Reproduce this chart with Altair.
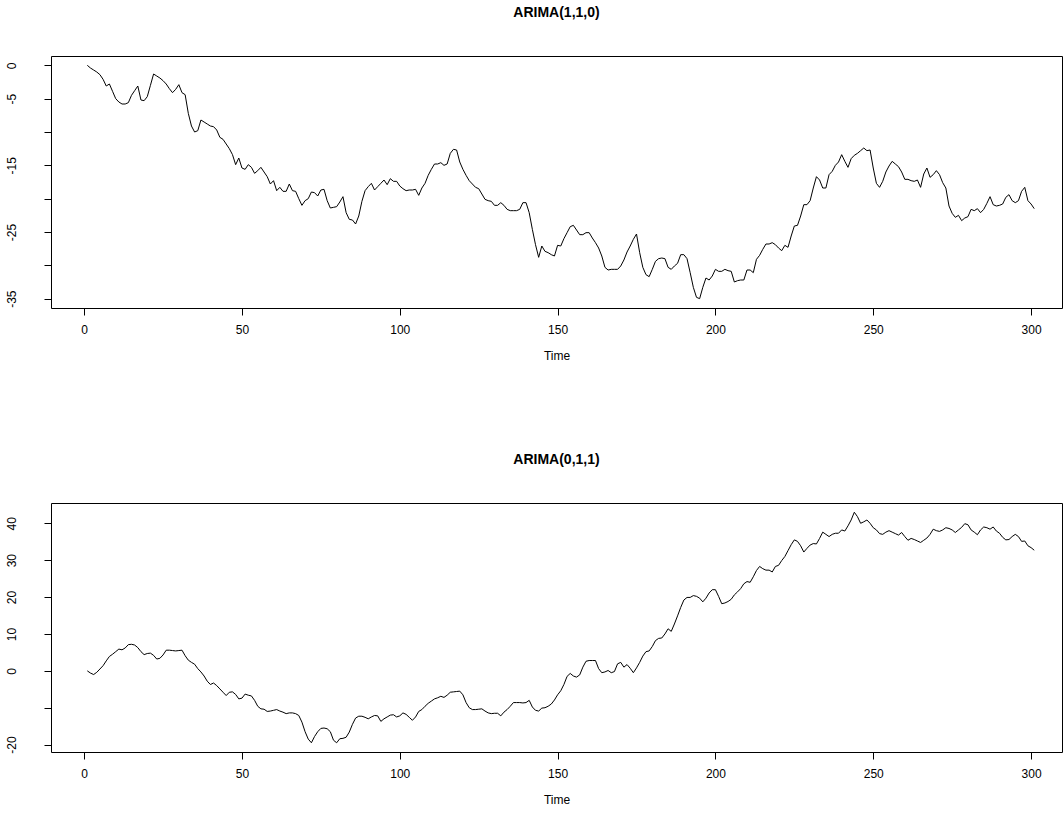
import altair as alt
import pandas as pd

time_index = list(range(1, 302))

arima110 = [
    0.0, -0.4, -0.7, -1.0, -1.4, -2.1, -3.1, -2.8, -3.9, -5.0,
    -5.5, -5.8, -5.8, -5.6, -4.5, -3.8, -3.1, -5.2, -5.3, -4.7,
    -3.0, -1.3, -1.6, -1.9, -2.3, -2.8, -3.5, -4.1, -3.6, -2.9,
    -4.1, -4.4, -7.2, -9.1, -10.0, -9.8, -8.2, -8.5, -8.8, -9.1,
    -9.2, -9.7, -10.8, -11.1, -11.8, -12.5, -13.4, -14.9, -13.9, -15.4,
    -15.6, -14.9, -15.3, -16.2, -15.8, -15.3, -16.0, -16.7, -17.8, -17.3,
    -18.8, -18.3, -18.9, -18.9, -17.8, -18.8, -18.9, -20.0, -21.0, -20.3,
    -20.0, -19.0, -19.1, -19.6, -18.7, -18.6, -20.3, -21.4, -21.3, -21.2,
    -20.5, -19.7, -22.1, -23.1, -23.2, -23.8, -22.6, -20.4, -18.8, -18.2,
    -17.7, -18.7, -18.2, -17.7, -17.2, -17.9, -17.0, -17.4, -17.4, -18.1,
    -18.5, -18.8, -18.7, -18.7, -18.6, -19.5, -18.4, -17.7, -16.5, -15.6,
    -14.8, -14.8, -14.6, -15.0, -14.8, -13.2, -12.6, -12.7, -14.5, -15.6,
    -16.5, -17.3, -17.8, -18.3, -18.5, -19.3, -20.1, -20.3, -20.4, -21.0,
    -21.0, -20.6, -21.0, -21.6, -21.8, -21.8, -21.8, -21.6, -20.6, -20.6,
    -22.1, -24.6, -26.9, -28.8, -27.1, -27.9, -28.1, -28.4, -28.6, -27.0,
    -27.1, -26.0, -25.1, -24.2, -24.0, -24.7, -25.4, -25.4, -25.1, -25.1,
    -25.9, -26.6, -27.4, -28.6, -30.3, -30.7, -30.6, -30.6, -30.6, -30.1,
    -29.2, -28.0, -27.1, -26.1, -25.3, -28.1, -30.3, -31.4, -31.7, -30.6,
    -29.4, -29.0, -28.9, -29.0, -30.3, -30.6, -30.1, -29.7, -28.4, -28.4,
    -29.0, -31.1, -33.3, -34.8, -35.0, -33.3, -31.9, -32.2, -31.6, -30.6,
    -30.9, -30.9, -30.6, -30.8, -30.9, -32.5, -32.3, -32.2, -32.2, -30.7,
    -30.7, -31.1, -29.1, -28.5, -27.6, -26.8, -26.8, -26.6, -26.9, -27.4,
    -27.8, -27.0, -27.3, -25.6, -24.1, -24.0, -22.6, -20.9, -20.9, -20.3,
    -18.4, -16.7, -17.2, -18.4, -18.4, -16.4, -15.9, -15.0, -14.5, -13.4,
    -14.4, -15.3, -14.0, -13.5, -13.2, -12.8, -12.4, -12.8, -12.7, -15.4,
    -17.7, -18.3, -17.4, -16.0, -15.1, -14.4, -14.8, -15.2, -16.0, -17.1,
    -17.1, -17.3, -17.4, -17.2, -18.3, -16.3, -15.4, -16.8, -16.4, -15.8,
    -16.4, -17.6, -18.4, -21.1, -22.2, -22.8, -22.5, -23.3, -22.9, -22.7,
    -21.6, -21.8, -21.5, -22.1, -21.6, -20.7, -19.7, -20.9, -21.1, -21.0,
    -20.8, -19.8, -19.4, -20.3, -20.6, -20.3, -18.9, -18.3, -20.3, -20.8,
    -21.5,
]

arima011 = [
    0.0, -0.6, -1.0, -0.4, 0.5, 1.4, 2.7, 3.9, 4.5, 5.2,
    5.9, 5.7, 6.2, 7.1, 7.2, 7.0, 6.3, 5.2, 4.4, 4.7,
    4.8, 4.2, 3.2, 3.4, 4.3, 5.6, 5.6, 5.5, 5.4, 5.5,
    5.6, 4.1, 2.9, 2.3, 1.8, 0.6, -0.3, -1.4, -2.8, -3.7,
    -3.3, -4.0, -4.9, -5.8, -6.7, -5.8, -5.7, -6.4, -7.6, -7.4,
    -6.3, -6.6, -6.8, -8.0, -9.6, -10.3, -10.4, -11.0, -10.9, -10.7,
    -10.5, -10.9, -11.2, -11.6, -11.4, -11.4, -11.6, -12.1, -13.9, -16.5,
    -18.5, -19.5, -17.8, -16.5, -15.6, -15.5, -15.7, -16.5, -18.8, -19.5,
    -18.4, -18.3, -18.0, -16.6, -14.5, -12.8, -12.3, -12.3, -12.6, -13.0,
    -12.5, -12.1, -12.2, -13.7, -13.0, -12.5, -12.0, -11.9, -12.5, -12.2,
    -11.4, -11.8, -12.6, -13.4, -12.5, -11.0, -10.5, -9.6, -8.8, -8.2,
    -7.6, -7.3, -6.9, -7.2, -6.6, -5.8, -5.7, -5.6, -5.5, -6.5,
    -8.6, -10.0, -10.5, -10.5, -10.4, -10.3, -10.9, -11.4, -11.6, -11.5,
    -11.5, -12.2, -11.2, -10.5, -9.6, -8.6, -8.6, -8.6, -8.7, -8.6,
    -8.0, -9.8, -10.7, -10.9, -10.1, -10.0, -9.6, -9.0, -7.9, -6.5,
    -5.4, -3.7, -1.5, -0.7, -1.4, -1.7, -1.1, 1.0, 2.6, 2.8,
    2.8, 2.8, 0.6, -0.5, -0.3, 0.1, -0.5, -0.2, 1.9, 2.3,
    1.0, 1.7, 0.7, -0.5, 0.8, 2.3, 4.0, 5.2, 5.4, 6.6,
    8.2, 8.8, 8.9, 10.0, 11.4, 10.7, 12.7, 14.9, 17.2, 19.2,
    19.9, 19.9, 20.4, 20.2, 19.7, 18.7, 19.7, 21.1, 22.0, 22.0,
    20.2, 18.2, 18.4, 18.8, 19.4, 20.6, 21.4, 22.3, 23.6, 24.2,
    24.0, 25.5, 27.2, 28.3, 27.7, 27.3, 27.3, 26.8, 28.3, 28.6,
    29.9, 31.0, 32.6, 34.2, 35.5, 35.1, 33.9, 32.2, 33.2, 34.1,
    34.5, 34.4, 35.9, 37.6, 37.0, 36.4, 37.0, 37.3, 37.3, 38.2,
    37.9, 39.3, 40.9, 43.0, 41.8, 40.0, 40.4, 40.9, 40.0, 38.8,
    38.2, 37.2, 37.0, 37.6, 38.0, 37.6, 37.2, 36.8, 37.5, 36.4,
    35.4, 35.9, 35.6, 35.2, 34.8, 35.4, 36.0, 37.0, 38.4, 38.0,
    37.8, 38.2, 38.8, 38.6, 38.2, 37.5, 38.2, 38.9, 39.9, 39.6,
    38.2, 37.6, 36.9, 38.2, 39.0, 38.8, 38.4, 39.0, 37.9, 37.3,
    36.2, 35.5, 35.6, 36.4, 37.0, 36.4, 35.1, 35.2, 33.9, 33.4,
    32.7,
]

titles = ["ARIMA(1,1,0)", "ARIMA(0,1,1)"]
x_ticks = [0, 50, 100, 150, 200, 250, 300]
y_ticks_top = [-35, -30, -25, -20, -15, -10, -5, 0]
y_hidden_top = [-30, -20, -10]
y_ticks_bottom = [-20, -10, 0, 10, 20, 30, 40]
y_hidden_bottom = [-10]

FONT = "Liberation Sans"


def panel(values, title, ydomain, yticks, hidden, height):
    df = pd.DataFrame({"Time": time_index, "value": values})
    hide = " || ".join(f"datum.value == {h}" for h in hidden)
    label_expr = f"({hide}) ? '' : toString(datum.value)"
    return alt.Chart(
        df,
        title=alt.TitleParams(
            title, fontSize=14, fontWeight="bold", font=FONT,
            anchor="middle", offset=36, color="black",
        ),
    ).mark_line(color="black", strokeWidth=1).encode(
        x=alt.X(
            "Time:Q",
            scale=alt.Scale(domain=[-10.5, 309.8], nice=False, zero=False),
            axis=alt.Axis(values=x_ticks, title="Time", format="d",
                          grid=False, domain=False, ticks=True,
                          tickColor="black", tickSize=7, tickWidth=1,
                          labelFont=FONT, labelFontSize=12, labelColor="black",
                          titleFont=FONT, titleFontSize=12, titleColor="black",
                          titleFontWeight="normal",
                          labelPadding=9, titlePadding=15),
        ),
        y=alt.Y(
            "value:Q",
            scale=alt.Scale(domain=ydomain, nice=False, zero=False),
            axis=alt.Axis(values=yticks, title=None, labelAngle=-90,
                          grid=False, domain=False, ticks=True,
                          tickColor="black", tickSize=7, tickWidth=1,
                          labelFont=FONT, labelFontSize=12, labelColor="black",
                          labelExpr=label_expr, labelPadding=26,
                          labelAlign="center", labelBaseline="bottom",
                          minExtent=50, maxExtent=50),
        ),
    ).properties(
        width=1011, height=height,
        view=alt.ViewBackground(stroke="black", strokeWidth=1, fill="white"),
    )


top = panel(arima110, titles[0], [-36.4, 1.4], y_ticks_top, y_hidden_top, 252)
bottom = panel(arima011, titles[1], [-22, 45.5], y_ticks_bottom, y_hidden_bottom, 249)

chart = alt.vconcat(top, bottom, spacing=90).properties(
    padding={"left": 0, "top": 5, "right": 0, "bottom": 0},
    background="white",
).configure_view(
    stroke="black", strokeWidth=1
)

chart.save("out.html", embed_options={"renderer": "svg", "actions": False})
